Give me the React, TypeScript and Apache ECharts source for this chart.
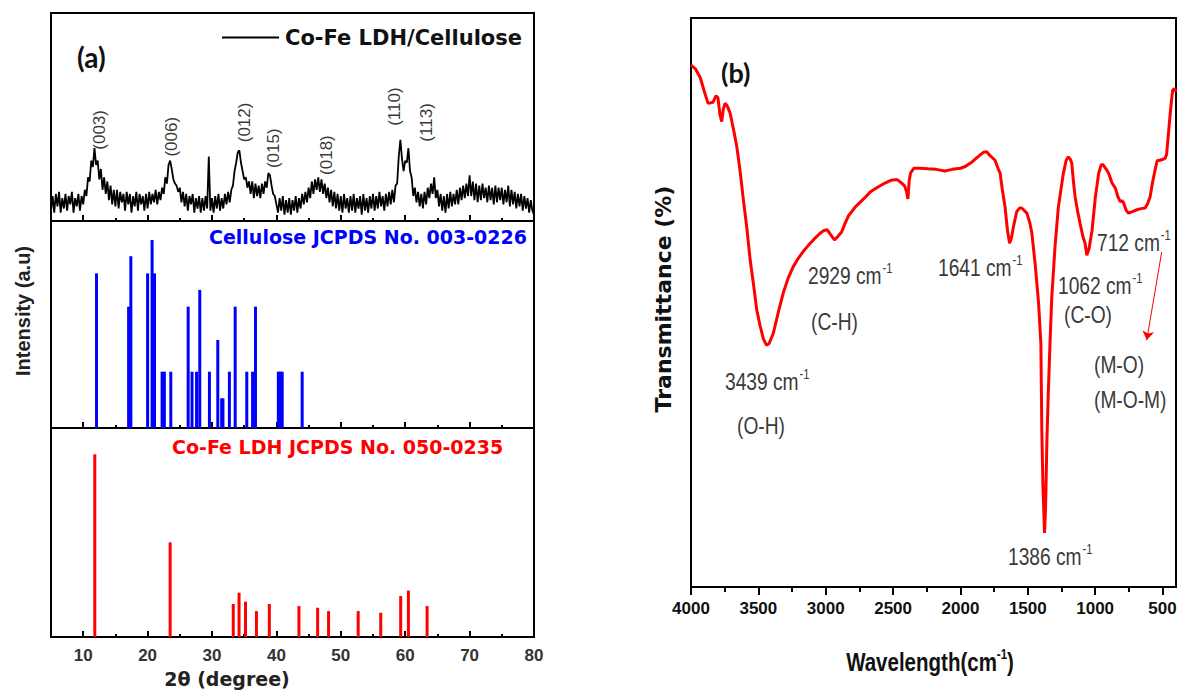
import React, { useEffect, useRef } from 'react';
import * as echarts from 'echarts';

// ---------- Panel (a): XRD ----------
const XRD_START = 5;
const XRD_STEP = 0.25;
// Co-Fe LDH/Cellulose pattern, read every 0.25° from 5° to 80°
const xrdIntensity = [
  5, 12, 4, 13, 7, 14, 4, 11, 6, 13, 5, 12, 8, 14, 4, 11, 7, 13, 5, 12,
  8, 15, 12, 21, 19, 29, 26, 35, 27, 29, 20, 25, 15, 21, 13, 19, 10, 17, 8, 15,
  7, 15, 6, 14, 9, 13, 5, 14, 8, 13, 4, 12, 7, 14, 5, 13, 8, 12, 5, 13,
  6, 14, 8, 13, 9, 15, 8, 14, 10, 16, 13, 21, 18, 27, 29, 25, 20, 18, 17, 14,
  16, 9, 14, 7, 13, 5, 12, 8, 13, 4, 11, 6, 12, 4, 11, 5, 12, 6, 31, 5,
  11, 4, 12, 6, 13, 5, 11, 6, 13, 8, 14, 9, 15, 17, 24, 28, 33, 34, 28, 24,
  20, 21, 16, 19, 13, 19, 11, 18, 12, 17, 11, 18, 13, 19, 16, 23, 22, 17, 13, 12,
  8, 4, 11, 5, 12, 3, 10, 4, 11, 3, 10, 5, 12, 4, 11, 6, 13, 8, 14, 9,
  16, 11, 19, 13, 20, 15, 21, 14, 20, 13, 18, 11, 16, 9, 15, 7, 14, 6, 13, 5,
  12, 4, 13, 6, 11, 4, 12, 5, 13, 4, 11, 6, 12, 3, 13, 5, 11, 4, 12, 6,
  13, 5, 12, 6, 14, 7, 12, 5, 13, 7, 14, 8, 15, 9, 17, 18, 31, 39, 30, 24,
  29, 28, 35, 24, 21, 12, 16, 9, 14, 7, 13, 6, 14, 8, 16, 11, 18, 13, 21, 11,
  15, 7, 13, 5, 12, 4, 13, 6, 14, 7, 13, 8, 15, 8, 16, 10, 17, 11, 18, 12,
  22, 12, 19, 10, 18, 9, 17, 10, 18, 11, 16, 9, 17, 10, 16, 8, 17, 9, 16, 10,
  16, 8, 15, 9, 17, 7, 15, 8, 14, 6, 13, 7, 13, 5, 12, 6, 11, 4, 10, 5,
  3,
];

const hklNames = ['(003)', '(006)', '(012)', '(015)', '(018)', '(110)', '(113)'];
const hklAngle = [12.6, 23.7, 35.1, 39.5, 47.8, 58.3, 63.3];
const hklHeight = [43.8, 40.5, 47.4, 35, 31.7, 55, 47.4];

const celluloseAngle = [12.07, 17.05, 17.4, 20.0, 20.7, 21.07, 22.25, 22.6, 23.6, 26.3, 26.9, 27.6, 28.1, 29.6, 30.9, 31.5, 31.7, 32.7, 33.6, 35.4, 36.3, 36.75, 40.3, 40.6, 40.9, 44.0];
const celluloseIntensity = [74.7, 58.6, 83, 74.7, 90.8, 74.7, 27.2, 27.2, 27.2, 58.6, 27.2, 27.2, 66.7, 27.2, 42.5, 14.3, 14.3, 27.2, 58.6, 27.2, 27.2, 58.6, 27.2, 27.2, 27.2, 27.2];

const ldhAngle = [11.8, 23.5, 33.3, 34.2, 35.2, 36.9, 38.9, 43.5, 46.4, 48.1, 52.7, 56.2, 59.3, 60.5, 63.4];
const ldhIntensity = [87.4, 45.3, 15.8, 21.2, 16.9, 12.4, 15.8, 14.8, 14, 12.4, 12.4, 11.6, 19.6, 22.2, 14.8];

const xrdMajorTicks = [10, 20, 30, 40, 50, 60, 70, 80];
const xrdMinorTicks = [15, 25, 35, 45, 55, 65, 75];

// ---------- Panel (b): FTIR ----------
const ftirWavenumber = [
  4000, 3965, 3931, 3900, 3873, 3836, 3815, 3800, 3785, 3772, 3760, 3747, 3732, 3710, 3685, 3660,
  3635, 3611, 3585, 3561, 3535, 3512, 3488, 3463, 3440, 3420, 3389, 3350, 3315, 3280, 3241, 3200,
  3166, 3130, 3092, 3050, 3018, 2990, 2960, 2935, 2910, 2882, 2855, 2832, 2780, 2719, 2670, 2618,
  2560, 2513, 2470, 2442, 2415, 2400, 2390, 2380, 2370, 2345, 2300, 2241, 2180, 2115, 2060, 2000,
  1964, 1920, 1880, 1855, 1830, 1805, 1780, 1743, 1720, 1706, 1690, 1669, 1650, 1635, 1620, 1607,
  1582, 1560, 1545, 1507, 1485, 1470, 1446, 1420, 1403, 1396, 1388, 1376, 1368, 1358, 1348, 1335,
  1322, 1298, 1273, 1250, 1236, 1215, 1199, 1185, 1174, 1160, 1149, 1130, 1112, 1090, 1075, 1062,
  1045, 1023, 998, 974, 955, 941, 920, 900, 875, 850, 830, 813, 800, 789, 770, 752,
  720, 690, 660, 629, 610, 592, 575, 555, 540, 520, 481, 470, 456, 440, 425, 410, 400,
];
const ftirTransmittance = [
  91.7, 91.0, 89.5, 87, 85, 85.2, 86.3, 86, 83, 81.8, 84, 85, 84.6, 83.3, 80.5, 77.4,
  73, 68, 63, 57.5, 53, 48.7, 46, 43.6, 42.5, 42.8, 44.6, 48.5, 51.7, 54.2, 56.3, 57.9,
  59, 60, 61, 62, 62.6, 62.8, 61.8, 61, 61.6, 62.4, 64, 65.2, 66.8, 68.2, 69.4, 70.2,
  71, 71.5, 71.6, 71.1, 70.5, 69.5, 68.2, 71.5, 72.8, 73.6, 73.6, 73.5, 73.4, 73.1, 73.4, 73.6,
  73.9, 74.6, 75.4, 75.9, 76.4, 76.5, 75.8, 75, 73.5, 72.8, 70, 66.8, 62.5, 60.4, 61.5, 63.3,
  66, 66.6, 66.6, 65.7, 64, 62.2, 56.9, 49.9, 42.8, 27.6, 18, 9.5, 14, 26, 34, 43,
  51, 59.8, 66.8, 70.5, 72.7, 75, 75.6, 75.2, 74.5, 71, 68.6, 66, 63.9, 61.5, 60.4, 58.3,
  59.5, 62.7, 68.6, 72.7, 74.2, 74.2, 73.5, 72.7, 71, 70.1, 68.5, 67.7, 67.9, 67.5, 66.2, 65.7,
  66, 66.3, 66.5, 66.6, 67.4, 68.6, 71, 73.3, 74.9, 75, 75.3, 76, 79.7, 84, 87.3, 87.6, 87,
];
const ftirMajorTicks = [4000, 3500, 3000, 2500, 2000, 1500, 1000, 500];
const ftirMinorTicks = [3750, 3250, 2750, 2250, 1750, 1250, 750];
// arrow from the 712 cm-1 note down to the (M-O) note: [wavenumber, transmittance]
const arrowStart = [506, 58.9];
const arrowEnd = [617, 43.4];

const ARIAL = '"Liberation Sans", Arial, sans-serif';
const DEJAVU = '"DejaVu Sans", sans-serif';
const NOTE_COLOR = '#3a3a3a';
const NARROW_SCALE = 0.8;

function note(text: string, sup: string | null, x: number, y: number) {
  const content = sup ? `{a|${text}}{s|${sup}}` : `{a|${text}}`;
  return {
    type: 'text',
    x,
    y,
    scaleX: NARROW_SCALE,
    style: {
      text: content,
      rich: {
        a: { fontSize: 24, fontFamily: ARIAL, fill: NOTE_COLOR, lineHeight: 28, verticalAlign: 'bottom' },
        s: { fontSize: 14, fontFamily: ARIAL, fill: NOTE_COLOR, lineHeight: 28, verticalAlign: 'top', padding: [2, 0, 0, 1] },
      },
      fill: NOTE_COLOR,
      align: 'left',
      textAlign: 'left',
      verticalAlign: 'middle',
      textVerticalAlign: 'middle',
    },
  };
}

export default function App() {
  const ref = useRef<HTMLDivElement>(null);

  useEffect(() => {
    if (!ref.current) return;
    const chart = echarts.init(ref.current, null, { renderer: 'svg' });

    const xrdData = xrdIntensity.map((v, i) => [XRD_START + i * XRD_STEP, v]);
    const hklData = hklNames.map((n, i) => ({ name: n, value: [hklAngle[i], hklHeight[i]] }));
    const celluloseData = celluloseAngle.map((a, i) => [a, celluloseIntensity[i]]);
    const ldhData = ldhAngle.map((a, i) => [a, ldhIntensity[i]]);
    const ftirData = ftirWavenumber.map((w, i) => [w, ftirTransmittance[i]]);

    const gridStyle = {
      show: true, borderColor: '#000', borderWidth: 2, backgroundColor: 'transparent',
      containLabel: false, outerBoundsMode: 'none',
    };
    const grids = [
      { left: 51, top: 13, width: 483, height: 208, ...gridStyle },
      { left: 51, top: 221, width: 483, height: 207, ...gridStyle },
      { left: 51, top: 428, width: 483, height: 209, ...gridStyle },
      { left: 691, top: 18, width: 485, height: 569, ...gridStyle },
    ];

    const xAxes: any[] = [];
    for (let g = 0; g < 3; g++) {
      xAxes.push({
        type: 'value', gridIndex: g, min: 5, max: 80, position: 'bottom',
        axisLine: { show: false },
        axisTick: { show: true, inside: true, length: 6, customValues: xrdMajorTicks, lineStyle: { color: '#000', width: 2 } },
        axisLabel: {
          show: g === 2, customValues: xrdMajorTicks, margin: 10,
          fontFamily: ARIAL, fontWeight: 'bold', fontSize: 17, color: '#333',
          formatter: (v: number) => String(v),
        },
        splitLine: { show: false },
      });
      xAxes.push({
        type: 'value', gridIndex: g, min: 5, max: 80, position: 'bottom',
        axisLine: { show: false },
        axisTick: { show: true, inside: true, length: 3, customValues: xrdMinorTicks, lineStyle: { color: '#000', width: 2 } },
        axisLabel: { show: false },
        splitLine: { show: false },
      });
    }
    xAxes.push({
      type: 'value', gridIndex: 3, min: 400, max: 4000, inverse: true, position: 'bottom',
      axisLine: { show: true, lineStyle: { color: '#000', width: 2 } },
      axisTick: { show: true, inside: false, length: 8, customValues: ftirMajorTicks, lineStyle: { color: '#000', width: 2 } },
      axisLabel: {
        show: true, customValues: ftirMajorTicks, margin: 13,
        fontFamily: ARIAL, fontWeight: 'bold', fontSize: 17, color: '#111',
        formatter: (v: number) => String(v),
      },
      splitLine: { show: false },
    });
    xAxes.push({
      type: 'value', gridIndex: 3, min: 400, max: 4000, inverse: true, position: 'bottom',
      axisLine: { show: false },
      axisTick: { show: true, inside: false, length: 5, customValues: ftirMinorTicks, lineStyle: { color: '#000', width: 2 } },
      axisLabel: { show: false },
      splitLine: { show: false },
    });

    const yAxes = [0, 1, 2, 3].map((g) => ({
      type: 'value', gridIndex: g, min: 0, max: 100, show: false,
      splitLine: { show: false },
    }));

    const option: any = {
      animation: false,
      backgroundColor: '#fff',
      grid: grids,
      xAxis: xAxes,
      yAxis: yAxes,
      legend: {
        show: true,
        left: 217,
        top: 22,
        itemWidth: 57,
        itemHeight: 2,
        itemGap: 5,
        data: [{ name: 'Co-Fe LDH/Cellulose', icon: 'rect' }],
        textStyle: { fontFamily: DEJAVU, fontWeight: 'bold', fontSize: 21, color: '#111', padding: [0, 0, 0, 1] },
      },
      series: [
        {
          name: 'Co-Fe LDH/Cellulose', type: 'line', xAxisIndex: 0, yAxisIndex: 0,
          data: xrdData, showSymbol: false, symbol: 'none',
          lineStyle: { color: '#000', width: 1.8 }, itemStyle: { color: '#000' },
        },
        {
          name: 'hkl', type: 'scatter', xAxisIndex: 0, yAxisIndex: 0, symbolSize: 0,
          data: hklData, silent: true,
          label: {
            show: true, formatter: '{b}', rotate: 90, position: 'inside',
            fontFamily: ARIAL, fontSize: 17, color: '#000',
          },
        },
        {
          name: 'Cellulose JCPDS No. 003-0226', type: 'bar', xAxisIndex: 2, yAxisIndex: 1,
          data: celluloseData, barWidth: 3, itemStyle: { color: '#0000ff' },
        },
        {
          name: 'Co-Fe LDH JCPDS No. 050-0235', type: 'bar', xAxisIndex: 4, yAxisIndex: 2,
          data: ldhData, barWidth: 3, itemStyle: { color: '#ff0000' },
        },
        {
          name: 'FTIR', type: 'line', xAxisIndex: 6, yAxisIndex: 3,
          data: ftirData, showSymbol: false, symbol: 'none',
          lineStyle: { color: '#ff0000', width: 3 },
          markLine: {
            silent: true, symbol: ['none', 'arrow'], symbolSize: 9,
            lineStyle: { color: '#ff0000', width: 1, type: 'solid' },
            label: { show: false },
            data: [[{ coord: arrowStart }, { coord: arrowEnd }]],
          },
        },
      ],
      graphic: [
        { type: 'text', x: 77, y: 57, style: { text: '(a)', fontFamily: 'Lato, "Open Sans", sans-serif', fontWeight: 'bold', fontSize: 28, fill: '#111', align: 'left', textAlign: 'left', verticalAlign: 'middle', textVerticalAlign: 'middle' } },
        { type: 'text', x: 721, y: 72, style: { text: '(b)', fontFamily: 'Lato, "Open Sans", sans-serif', fontWeight: 'bold', fontSize: 27, fill: '#111', align: 'left', textAlign: 'left', verticalAlign: 'middle', textVerticalAlign: 'middle' } },
        { type: 'text', x: 527, y: 237, style: { text: 'Cellulose JCPDS No. 003-0226', fontFamily: DEJAVU, fontWeight: 'bold', fontSize: 19, fill: '#0000ff', align: 'right', textAlign: 'right', verticalAlign: 'middle', textVerticalAlign: 'middle' } },
        { type: 'text', x: 172, y: 447, style: { text: 'Co-Fe LDH JCPDS No. 050-0235', fontFamily: DEJAVU, fontWeight: 'bold', fontSize: 19, fill: '#ff0000', align: 'left', textAlign: 'left', verticalAlign: 'middle', textVerticalAlign: 'middle' } },
        { type: 'text', x: 23, y: 311, rotation: Math.PI / 2, style: { text: 'Intensity (a.u)', fontFamily: ARIAL, fontWeight: 'bold', fontSize: 20, fill: '#222', align: 'center', textAlign: 'center', verticalAlign: 'middle', textVerticalAlign: 'middle' } },
        { type: 'text', x: 227, y: 679, style: { text: '2θ (degree)', fontFamily: DEJAVU, fontWeight: 'bold', fontSize: 19, fill: '#222', align: 'center', textAlign: 'center', verticalAlign: 'middle', textVerticalAlign: 'middle' } },
        { type: 'text', x: 663, y: 299, rotation: Math.PI / 2, style: { text: 'Transmittance (%)', fontFamily: DEJAVU, fontWeight: 'bold', fontSize: 22, fill: '#111', align: 'center', textAlign: 'center', verticalAlign: 'middle', textVerticalAlign: 'middle' } },
        {
          type: 'text', x: 930, y: 660, scaleX: 0.82,
          style: {
            text: '{a|Wavelength(cm}{s|-1}{a|)}',
            rich: {
              a: { fontFamily: ARIAL, fontWeight: 'bold', fontSize: 25, fill: '#111', lineHeight: 30, verticalAlign: 'bottom' },
              s: { fontFamily: ARIAL, fontWeight: 'bold', fontSize: 14, fill: '#111', lineHeight: 30, verticalAlign: 'top', padding: [2, 0, 0, 0] },
            },
            align: 'center', textAlign: 'center', verticalAlign: 'middle', textVerticalAlign: 'middle',
          },
        },
        note('3439 cm', '-1', 725, 380),
        note('(O-H)', null, 737, 424),
        note('2929 cm', '-1', 808, 274),
        note('(C-H)', null, 811, 320),
        note('1641 cm', '-1', 938, 266),
        note('1062 cm', '-1', 1058, 284),
        note('(C-O)', null, 1064, 313),
        note('712 cm', '-1', 1097, 241),
        note('1386 cm', '-1', 1008, 555),
        note('(M-O)', null, 1094, 363),
        note('(M-O-M)', null, 1094, 398),
      ],
    };

    chart.setOption(option);
    return () => chart.dispose();
  }, []);

  return (
    <div
      ref={ref}
      style={{ position: 'absolute', left: 0, top: 0, width: 1177, height: 691, background: '#fff' }}
    />
  );
}
